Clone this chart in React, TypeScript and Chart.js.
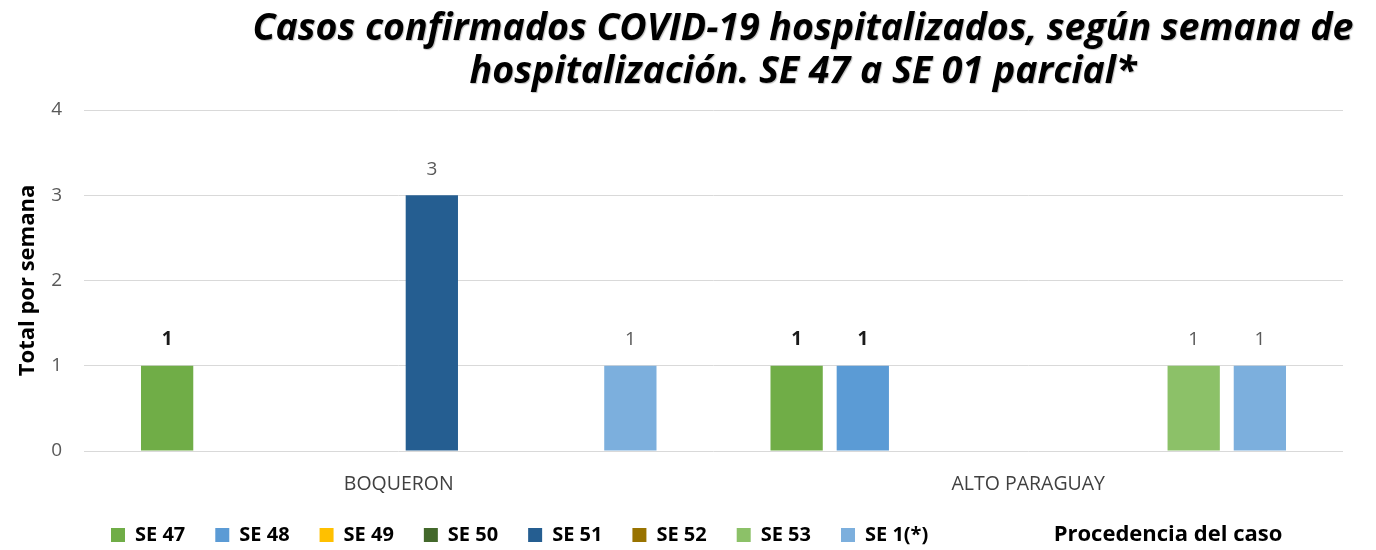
import React, { useEffect, useRef } from "react";
import { Chart, registerables } from "chart.js";

Chart.register(...registerables);

const categories = ["BOQUERON", "ALTO PARAGUAY"];
const seriesNames = ["SE 47", "SE 48", "SE 49", "SE 50", "SE 51", "SE 52", "SE 53", "SE 1(*)"];
const se47 = [1, 1];
const se48 = [0, 1];
const se49 = [0, 0];
const se50 = [0, 0];
const se51 = [3, 0];
const se52 = [0, 0];
const se53 = [0, 1];
const se1 = [1, 1];
const seriesValues = [se47, se48, se49, se50, se51, se52, se53, se1];
const seriesColors = ["#70AD47", "#5B9BD5", "#FFC000", "#43682B", "#255E91", "#997300", "#8CC168", "#7CAFDD"];
const labelBold = [true, true, false, false, false, false, false, false];
const yMin = 0;
const yMax = 4;
const titleLines = [
  "Casos confirmados COVID-19 hospitalizados, según semana de",
  "hospitalización. SE 47 a SE 01 parcial*",
];
const yAxisTitle = "Total por semana";
const xAxisTitle = "Procedencia del caso";

const FONT = "'Open Sans', 'DejaVu Sans', sans-serif";

const titlePlugin = {
  id: "customTitle",
  afterDraw(chart: any) {
    const ctx = chart.ctx;
    ctx.save();
    ctx.font = `italic bold 37.5px ${FONT}`;
    ctx.fillStyle = "#000";
    ctx.textAlign = "center";
    ctx.textBaseline = "middle";
    ctx.shadowColor = "rgba(0,0,0,0.25)";
    ctx.shadowOffsetX = 1;
    ctx.shadowOffsetY = 1;
    ctx.shadowBlur = 1;
    ctx.fillText(titleLines[0], 795, 21);
    ctx.fillText(titleLines[1], 795, 64);
    ctx.restore();
  },
};

const xTitlePlugin = {
  id: "xTitleRight",
  afterDraw(chart: any) {
    const ctx = chart.ctx;
    ctx.save();
    ctx.font = `bold 22px ${FONT}`;
    ctx.fillStyle = "#000";
    ctx.textAlign = "center";
    ctx.textBaseline = "middle";
    ctx.fillText(xAxisTitle, 1160, 527);
    ctx.restore();
  },
};

const legendShiftPlugin = {
  id: "legendShift",
  afterLayout(chart: any) {
    const lg = chart.legend;
    if (lg) {
      lg.left = 73;
      lg.right = 1340;
      lg.top = 487;
      lg.bottom = 542;
      lg.width = lg.right - lg.left;
      lg.height = lg.bottom - lg.top;
    }
  },
};

const dataLabelPlugin = {
  id: "dataLabels",
  afterDatasetsDraw(chart: any) {
    const ctx = chart.ctx;
    ctx.save();
    ctx.textAlign = "center";
    ctx.textBaseline = "middle";
    chart.data.datasets.forEach((ds: any, di: number) => {
      const meta = chart.getDatasetMeta(di);
      meta.data.forEach((bar: any, i: number) => {
        const v = ds.data[i];
        if (!v) return;
        ctx.font = labelBold[di] ? `bold 19px ${FONT}` : `19px ${FONT}`;
        ctx.fillStyle = labelBold[di] ? "#1a1a1a" : "#595959";
        ctx.fillText(String(v), bar.x, bar.y - 26);
      });
    });
    ctx.restore();
  },
};

export default function App() {
  const ref = useRef<HTMLCanvasElement>(null);
  useEffect(() => {
    if (!ref.current) return;
    const chart = new Chart(ref.current, {
      type: "bar",
      data: {
        labels: categories,
        datasets: seriesNames.map((name, i) => ({
          label: name,
          data: seriesValues[i],
          backgroundColor: seriesColors[i],
          borderWidth: 0,
          categoryPercentage: 0.841,
          barPercentage: 0.79,
        })),
      },
      options: {
        animation: false,
        responsive: true,
        maintainAspectRatio: false,
        layout: { padding: { top: 102, right: 25, left: 0, bottom: 0 } },
        plugins: {
          title: { display: false },
          tooltip: { enabled: false },
          legend: {
            display: true,
            position: "bottom",
            align: "start",
            maxHeight: 20,
            labels: {
              boxWidth: 14,
              boxHeight: 14,
              padding: 30,
              color: "#000",
              font: { family: FONT, size: 20, weight: "bold" },
            },
          },
        },
        scales: {
          x: {
            grid: { display: false, drawTicks: false },
            border: { display: false },
            ticks: {
              color: "#404040",
              font: { family: FONT, size: 19.5 },
              padding: 22,
            },
            afterFit(scale: any) {
              scale.height = 79;
            },
          },
          y: {
            min: yMin,
            max: yMax,
            grid: { color: "#d9d9d9", lineWidth: 1, drawTicks: false },
            border: { display: false },
            ticks: {
              stepSize: 1,
              color: "#595959",
              font: { family: FONT, size: 19 },
              padding: 22,
            },
            title: {
              display: true,
              text: yAxisTitle,
              color: "#000",
              font: { family: FONT, size: 22, weight: "bold" },
              padding: { top: 7, bottom: 0 },
            },
            afterFit(scale: any) {
              scale.width = 76;
            },
          },
        },
      },
      plugins: [titlePlugin, xTitlePlugin, legendShiftPlugin, dataLabelPlugin],
    });
    return () => chart.destroy();
  }, []);
  return (
    <div style={{ position: "absolute", left: 8, top: 8, width: 1360, height: 542 }}>
      <canvas ref={ref} />
    </div>
  );
}
